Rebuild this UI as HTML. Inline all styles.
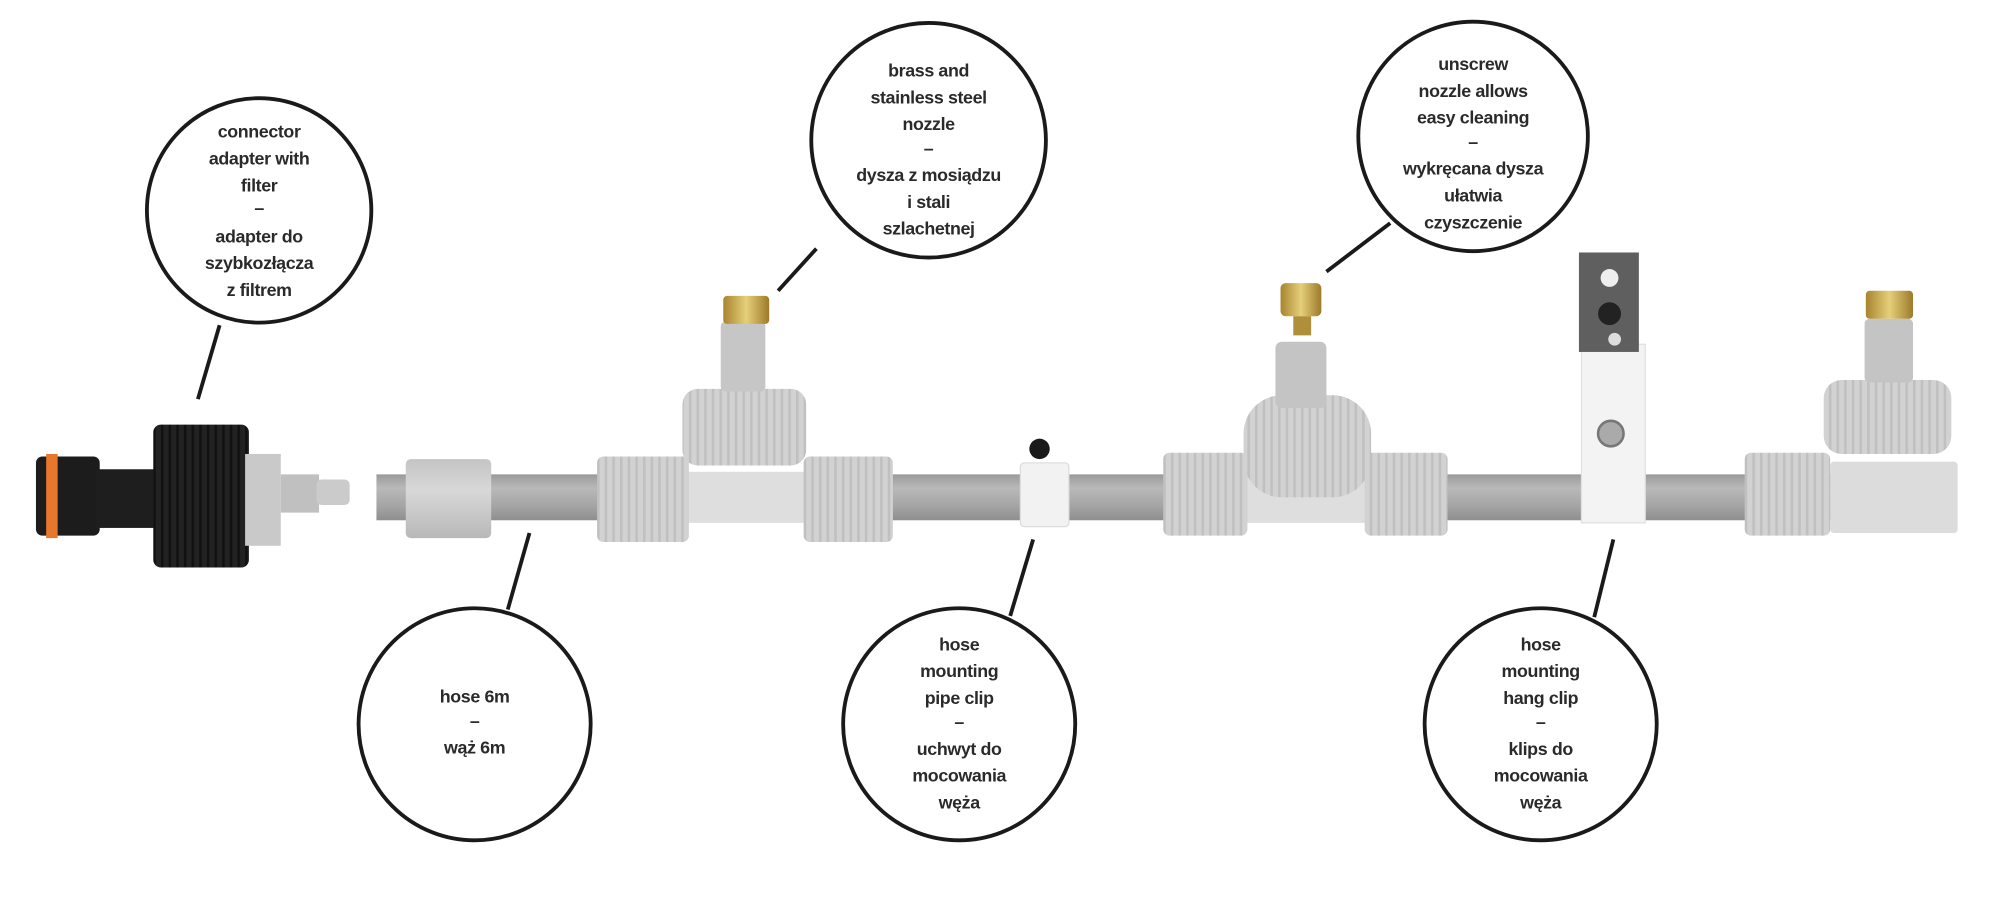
<!DOCTYPE html>
<html><head><meta charset="utf-8"><style>
html,body{margin:0;padding:0;background:#fff;width:2000px;height:899px;overflow:hidden}
svg{display:block}
text{font-family:"Liberation Sans",sans-serif;font-weight:bold;font-size:14px;fill:#2a2a2a;text-anchor:middle;letter-spacing:-0.3px}
</style></head><body>
<svg width="2000" height="899" viewBox="0 0 1568 705" xmlns="http://www.w3.org/2000/svg">
<defs>
<linearGradient id="hose" x1="0" y1="0" x2="0" y2="1"><stop offset="0" stop-color="#9a9a9a"/><stop offset=".3" stop-color="#b9b9b9"/><stop offset=".7" stop-color="#a4a4a4"/><stop offset="1" stop-color="#8e8e8e"/></linearGradient>
<linearGradient id="fit" x1="0" y1="0" x2="0" y2="1"><stop offset="0" stop-color="#c4c4c4"/><stop offset=".4" stop-color="#d8d8d8"/><stop offset="1" stop-color="#b8b8b8"/></linearGradient>
<linearGradient id="brass" x1="0" y1="0" x2="1" y2="0"><stop offset="0" stop-color="#a8842e"/><stop offset=".5" stop-color="#e6cf7a"/><stop offset="1" stop-color="#9c7a2a"/></linearGradient>
<pattern id="rib" width="6" height="10" patternUnits="userSpaceOnUse"><rect width="6" height="10" fill="#d2d2d2"/><rect width="2" height="10" fill="#c0c0c0"/></pattern>
<pattern id="ribk" width="6" height="10" patternUnits="userSpaceOnUse"><rect width="6" height="10" fill="#222"/><rect width="2" height="10" fill="#111"/></pattern>
</defs>
<rect width="1568" height="705" fill="#fff"/>
<rect x="295" y="372" width="1235" height="36" fill="url(#hose)"/>
<rect x="28" y="358" width="50" height="62" rx="5" fill="#1c1c1c"/>
<rect x="36" y="356" width="9" height="66" fill="#e8772e"/>
<rect x="75" y="368" width="50" height="46" fill="#1e1e1e"/>
<rect x="120" y="333" width="75" height="112" rx="6" fill="url(#ribk)"/>
<rect x="192" y="356" width="28" height="72" fill="#c9c9c9"/>
<rect x="220" y="372" width="30" height="30" fill="#c0c0c0"/>
<rect x="248" y="376" width="26" height="20" rx="4" fill="#cbcbcb"/>
<rect x="318" y="360" width="67" height="62" rx="4" fill="url(#fit)"/>
<rect x="535" y="370" width="100" height="40" fill="#dedede"/>
<rect x="468" y="358" width="72" height="67" rx="5" fill="url(#rib)"/>
<rect x="630" y="358" width="70" height="67" rx="5" fill="url(#rib)"/>
<rect x="535" y="305" width="97" height="60" rx="12" fill="url(#rib)"/>
<rect x="565" y="252" width="35" height="55" rx="4" fill="#c6c6c6"/>
<rect x="567" y="232" width="36" height="22" rx="3" fill="url(#brass)"/>
<rect x="800" y="363" width="38" height="50" rx="3" fill="#f2f2f2" stroke="#ddd"/>
<circle cx="815" cy="352" r="8" fill="#1a1a1a"/>
<rect x="975" y="370" width="100" height="40" fill="#dedede"/>
<rect x="912" y="355" width="66" height="65" rx="5" fill="url(#rib)"/>
<rect x="1070" y="355" width="65" height="65" rx="5" fill="url(#rib)"/>
<rect x="975" y="310" width="100" height="80" rx="30" fill="url(#rib)"/>
<rect x="1000" y="268" width="40" height="52" rx="5" fill="#c4c4c4"/>
<rect x="1004" y="222" width="32" height="26" rx="4" fill="url(#brass)"/>
<rect x="1014" y="248" width="14" height="15" fill="#b08f3a"/>
<rect x="1240" y="270" width="50" height="140" fill="#f3f3f3" stroke="#e0e0e0"/>
<rect x="1238" y="198" width="47" height="78" fill="#5f5f5f"/>
<circle cx="1262" cy="218" r="7" fill="#eee"/>
<circle cx="1262" cy="246" r="9" fill="#222"/>
<circle cx="1266" cy="266" r="5" fill="#ddd"/>
<circle cx="1263" cy="340" r="10" fill="#aaa" stroke="#777" stroke-width="2"/>
<rect x="1435" y="362" width="100" height="56" rx="3" fill="#dcdcdc"/>
<rect x="1368" y="355" width="67" height="65" rx="5" fill="url(#rib)"/>
<rect x="1430" y="298" width="100" height="58" rx="14" fill="url(#rib)"/>
<rect x="1462" y="250" width="38" height="50" rx="4" fill="#c4c4c4"/>
<rect x="1463" y="228" width="37" height="22" rx="3" fill="url(#brass)"/>
<g stroke="#1a1a1a" stroke-width="3" fill="none">
<line x1="172" y1="255" x2="155" y2="313"/>
<line x1="640" y1="195" x2="610" y2="228"/>
<line x1="1090" y1="175" x2="1040" y2="213"/>
<line x1="415" y1="418" x2="398" y2="478"/>
<line x1="810" y1="423" x2="792" y2="483"/>
<line x1="1265" y1="423" x2="1250" y2="484"/>
<circle cx="203" cy="165" r="88"/>
<circle cx="728" cy="110" r="92"/>
<circle cx="1155" cy="107" r="90"/>
<circle cx="372" cy="568" r="91"/>
<circle cx="752" cy="568" r="91"/>
<circle cx="1208" cy="568" r="91"/>
</g>
<text x="203" y="108">connector</text><text x="203" y="129">adapter with</text><text x="203" y="150">filter</text><text x="203" y="168">–</text><text x="203" y="190">adapter do</text><text x="203" y="211">szybkozłącza</text><text x="203" y="232">z filtrem</text>
<text x="728" y="60">brass and</text><text x="728" y="81">stainless steel</text><text x="728" y="102">nozzle</text><text x="728" y="121">–</text><text x="728" y="142">dysza z mosiądzu</text><text x="728" y="163">i stali</text><text x="728" y="184">szlachetnej</text>
<text x="1155" y="55">unscrew</text><text x="1155" y="76">nozzle allows</text><text x="1155" y="97">easy cleaning</text><text x="1155" y="116">–</text><text x="1155" y="137">wykręcana dysza</text><text x="1155" y="158">ułatwia</text><text x="1155" y="179">czyszczenie</text>
<text x="372" y="551">hose 6m</text><text x="372" y="570">–</text><text x="372" y="591">wąż 6m</text>
<text x="752" y="510">hose</text><text x="752" y="531">mounting</text><text x="752" y="552">pipe clip</text><text x="752" y="571">–</text><text x="752" y="592">uchwyt do</text><text x="752" y="613">mocowania</text><text x="752" y="634">węża</text>
<text x="1208" y="510">hose</text><text x="1208" y="531">mounting</text><text x="1208" y="552">hang clip</text><text x="1208" y="571">–</text><text x="1208" y="592">klips do</text><text x="1208" y="613">mocowania</text><text x="1208" y="634">węża</text>
</svg>
</body></html>
